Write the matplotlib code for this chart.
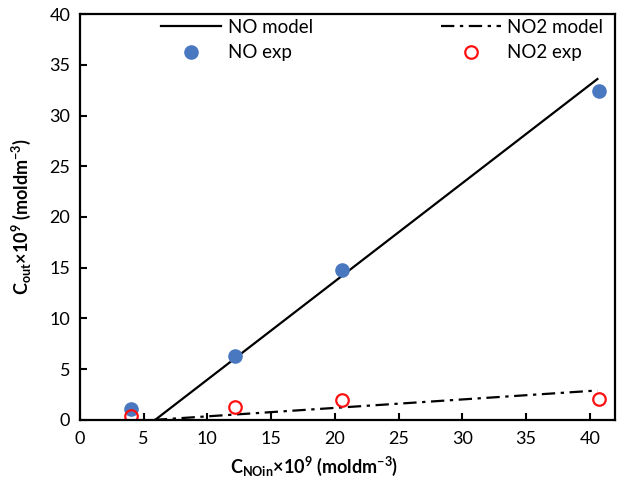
import numpy as np
import matplotlib
matplotlib.use('Agg')
import matplotlib.pyplot as plt

plt.rcParams['font.family'] = ['Lato', 'DejaVu Sans']
plt.rcParams['mathtext.fontset'] = 'custom'
plt.rcParams['mathtext.rm'] = 'Lato'
plt.rcParams['mathtext.bf'] = 'Lato:bold'
plt.rcParams['mathtext.default'] = 'bf'

# experimental points
c_in = [4.0, 12.2, 20.6, 40.7]
no_exp = [1.1, 6.3, 14.8, 32.4]
no2_exp = [0.4, 1.3, 2.0, 2.1]

# model lines
c_model = [5.8, 40.6]
no_model = [-0.1, 33.6]
no2_model = [0.0, 2.9]

fig = plt.figure(figsize=(6.24, 4.86), dpi=100)
ax = fig.add_axes([0.128, 0.136, 0.858, 0.835])

ax.plot(c_model, no_model, color='black', lw=1.6, label='NO model')
ax.plot(c_in, no_exp, 'o', color='#4a78c0', ms=9.5, label='NO exp')
ax.plot(c_model, no2_model, color='black', lw=1.6, linestyle=(0, (6, 2.5, 1.5, 2.5)),
        label='NO2 model')
ax.plot(c_in, no2_exp, 'o', mfc='none', mec='#ff1010', mew=1.6, ms=9, label='NO2 exp')

ax.set_xlim(0, 42)
ax.set_ylim(0, 40)
ax.set_xticks(np.arange(0, 45, 5))
ax.set_yticks(np.arange(0, 45, 5))
ax.tick_params(direction='in', length=5, width=1.5, labelsize=13, pad=8)
ax.tick_params(axis='y', pad=7)
for s in ax.spines.values():
    s.set_linewidth(1.6)

ax.set_xlabel(r'C$_{NOin}$×10$^{9}$ (moldm$^{-3}$)', fontsize=13, fontweight='bold')
ax.set_ylabel(r'C$_{out}$×10$^{9}$ (moldm$^{-3}$)', fontsize=13, fontweight='bold')
ax.xaxis.set_label_coords(0.437, -0.085)
ax.yaxis.set_label_coords(-0.088, 0.5)

ax.legend(loc='upper center', bbox_to_anchor=(0.565, 1.03), ncol=2, frameon=False,
          fontsize=13.5, handlelength=3.2, columnspacing=6.8, labelspacing=0.45,
          handletextpad=0.35)

fig.savefig('out.png', dpi=100)
